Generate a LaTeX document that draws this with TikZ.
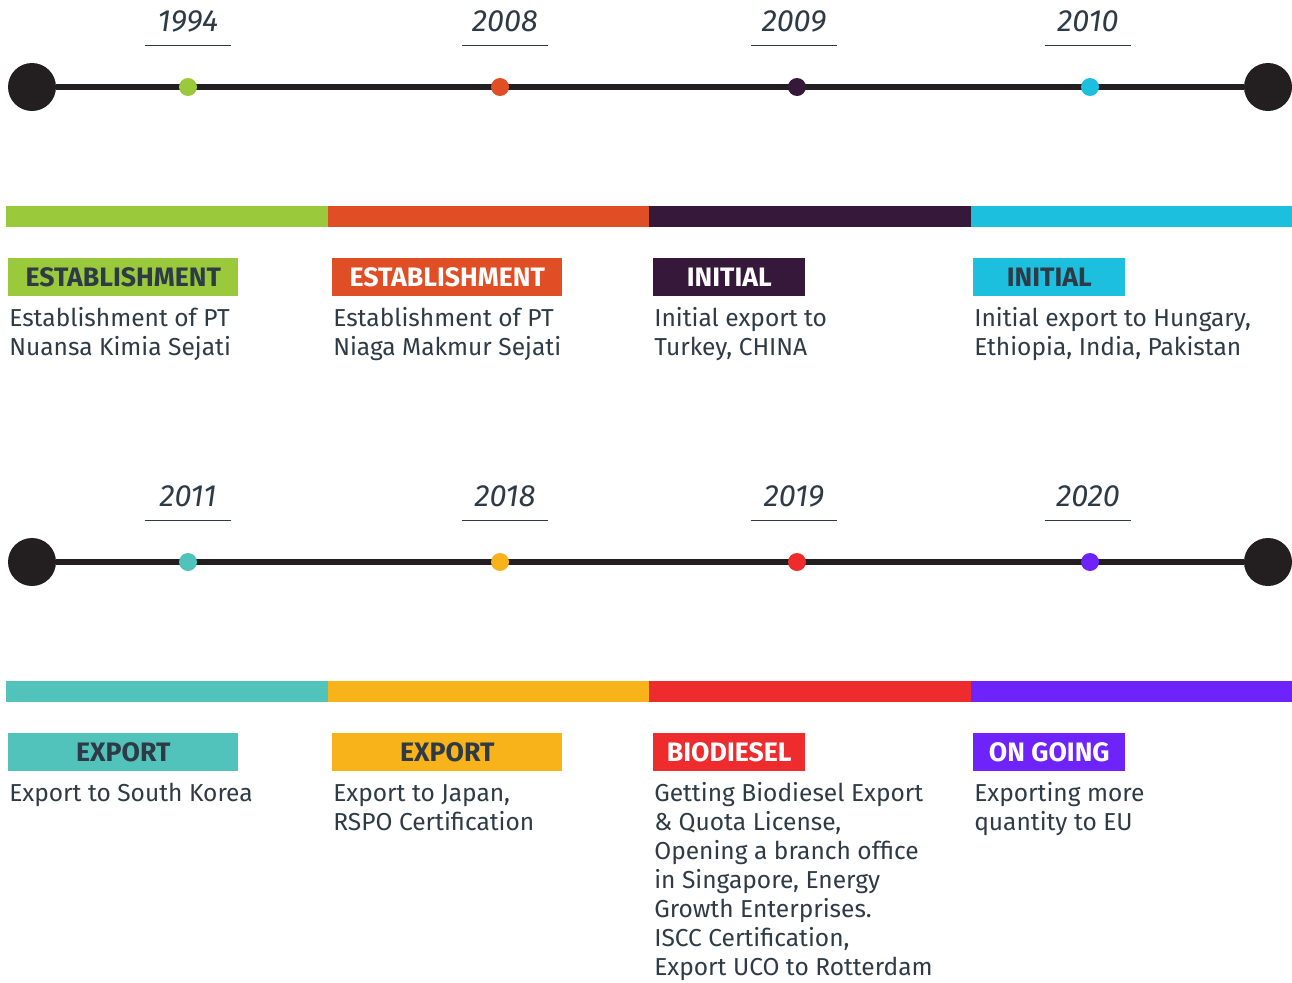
\documentclass[tikz,border=0pt]{standalone}
\usepackage{fontspec}
\setmainfont{Fira Sans}
\usepackage{tikz}
\usetikzlibrary{positioning}
\definecolor{tl_line}{HTML}{231F20}
\definecolor{tl_text}{HTML}{2E3B46}
\definecolor{c_green}{HTML}{9BC93C}
\definecolor{c_orange}{HTML}{E04E26}
\definecolor{c_plum}{HTML}{35183A}
\definecolor{c_cyan}{HTML}{1DBFDF}
\definecolor{c_teal}{HTML}{52C3BB}
\definecolor{c_yellow}{HTML}{F8B31A}
\definecolor{c_red}{HTML}{EE2C2E}
\definecolor{c_violet}{HTML}{6E23FB}

\begin{document}
\begin{tikzpicture}[x=0.75pt, y=-0.75pt, every node/.style={inner sep=0pt, text=tl_text},
    bigdot/.style={circle, fill=tl_line, minimum size=36pt},
    dot/.style={circle, minimum size=13.5pt},
    tline/.style={tl_line, line width=5pt},
    year/.style={anchor=base, minimum width=64.5pt, font=\fontsize{23}{26}\selectfont\itshape},
    yrule/.style={tl_text, line width=1.1pt},
    tag/.style={anchor=north west, minimum width=172.5pt, minimum height=28.5pt, font=\fontsize{20}{22}\selectfont\bfseries},
    smalltag/.style={tag, minimum width=114pt},
    desc/.style={anchor=north west, align=left, font=\fontsize{18.4}{21.75}\selectfont, execute at begin node=\strut}]
  \useasboundingbox (0,0) rectangle (1292,982);
  % first row
  \node[bigdot] (s1) at (32,87) {};
  \node[bigdot] (e1) at (1268,87) {};
  \draw[tline] (s1) -- (e1);
  \node[dot, fill=c_green] (d1) at (188,87) {};
  \node[dot, fill=c_orange] (d2) at (500,87) {};
  \node[dot, fill=c_plum] (d3) at (797,87) {};
  \node[dot, fill=c_cyan] (d4) at (1090,87) {};
  \node[year] (y1) at (188,31) {1994};
  \node[year] (y2) at (505,31) {2008};
  \node[year] (y3) at (794,31) {2009};
  \node[year] (y4) at (1088,31) {2010};
  \draw[yrule] ([yshift=-11pt]y1.base west) -- ([yshift=-11pt]y1.base east);
  \draw[yrule] ([yshift=-11pt]y2.base west) -- ([yshift=-11pt]y2.base east);
  \draw[yrule] ([yshift=-11pt]y3.base west) -- ([yshift=-11pt]y3.base east);
  \draw[yrule] ([yshift=-11pt]y4.base west) -- ([yshift=-11pt]y4.base east);
  \fill[c_green] (6,206) rectangle (328,227);
  \fill[c_orange] (328,206) rectangle (649,227);
  \fill[c_plum] (649,206) rectangle (971,227);
  \fill[c_cyan] (971,206) rectangle (1292,227);
  \node[tag, fill=c_green] (t1) at (8,258) {ESTABLISHMENT};
  \node[tag, fill=c_orange, text=white] (t2) at (332,258) {ESTABLISHMENT};
  \node[smalltag, fill=c_plum, text=white] (t3) at (653,258) {INITIAL};
  \node[smalltag, fill=c_cyan] (t4) at (973,258) {INITIAL};
  \node[desc] (n1) at (9,307) {Establishment of PT\\Nuansa Kimia Sejati};
  \node[desc] (n2) at (333,307) {Establishment of PT\\Niaga Makmur Sejati};
  \node[desc] (n3) at (654,307) {Initial export to\\Turkey, CHINA};
  \node[desc] (n4) at (974,307) {Initial export to Hungary,\\Ethiopia, India, Pakistan};
  % second row
  \node[bigdot] (s2) at (32,562) {};
  \node[bigdot] (e2) at (1268,562) {};
  \draw[tline] (s2) -- (e2);
  \node[dot, fill=c_teal] (d5) at (188,562) {};
  \node[dot, fill=c_yellow] (d6) at (500,562) {};
  \node[dot, fill=c_red] (d7) at (797,562) {};
  \node[dot, fill=c_violet] (d8) at (1090,562) {};
  \node[year] (y5) at (188,506) {2011};
  \node[year] (y6) at (505,506) {2018};
  \node[year] (y7) at (794,506) {2019};
  \node[year] (y8) at (1088,506) {2020};
  \draw[yrule] ([yshift=-11pt]y5.base west) -- ([yshift=-11pt]y5.base east);
  \draw[yrule] ([yshift=-11pt]y6.base west) -- ([yshift=-11pt]y6.base east);
  \draw[yrule] ([yshift=-11pt]y7.base west) -- ([yshift=-11pt]y7.base east);
  \draw[yrule] ([yshift=-11pt]y8.base west) -- ([yshift=-11pt]y8.base east);
  \fill[c_teal] (6,681) rectangle (328,702);
  \fill[c_yellow] (328,681) rectangle (649,702);
  \fill[c_red] (649,681) rectangle (971,702);
  \fill[c_violet] (971,681) rectangle (1292,702);
  \node[tag, fill=c_teal] (t5) at (8,733) {EXPORT};
  \node[tag, fill=c_yellow] (t6) at (332,733) {EXPORT};
  \node[smalltag, fill=c_red, text=white] (t7) at (653,733) {BIODIESEL};
  \node[smalltag, fill=c_violet, text=white] (t8) at (973,733) {ON GOING};
  \node[desc] (n5) at (9,781) {Export to South Korea};
  \node[desc] (n6) at (333,784) {Export to Japan,\\RSPO Certification};
  \node[desc] (n7) at (654,782) {Getting Biodiesel Export\\\& Quota License,\\Opening a branch office\\in Singapore, Energy\\Growth Enterprises.\\ISCC Certification,\\Export UCO to Rotterdam};
  \node[desc] (n8) at (974,782) {Exporting more\\quantity to EU};
\end{tikzpicture}
\end{document}
